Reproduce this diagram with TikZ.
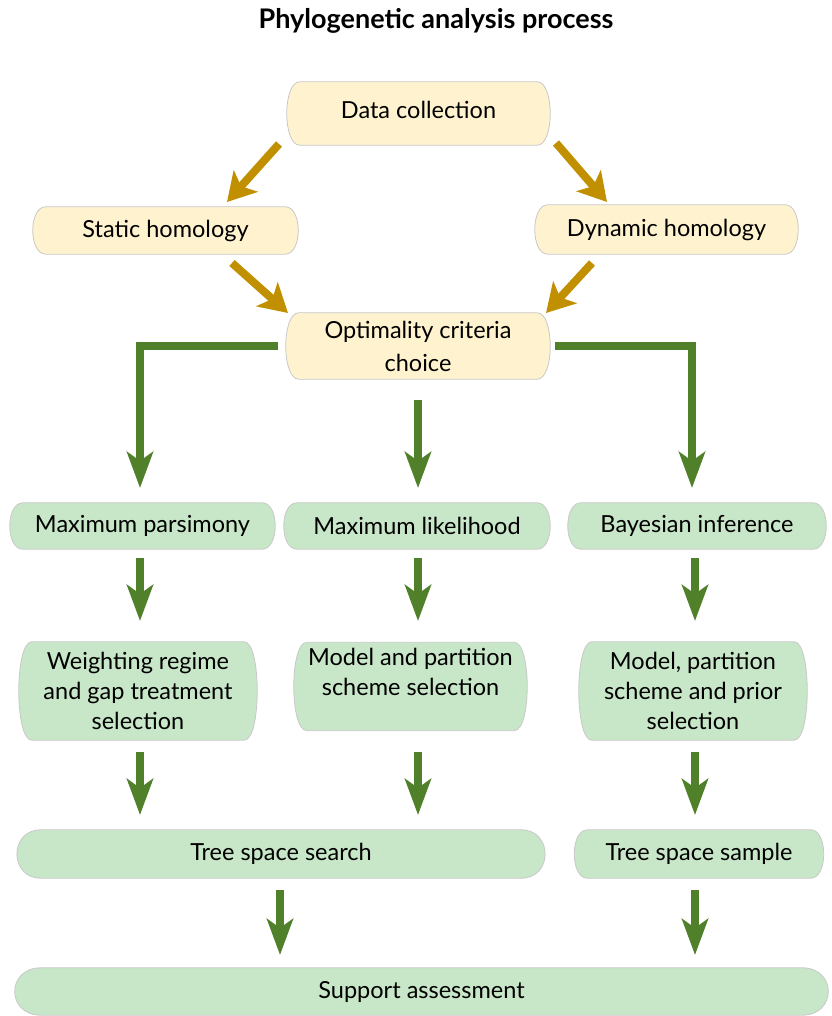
\documentclass[tikz,border=0pt]{standalone}
\usepackage{fontspec}
\setmainfont{Lato}
\usetikzlibrary{arrows.meta,calc}
\definecolor{gold}{RGB}{192,144,0}
\definecolor{leaf}{RGB}{80,128,42}
\definecolor{cream}{RGB}{255,243,207}
\definecolor{mint}{RGB}{200,230,200}
\definecolor{edgegray}{RGB}{200,200,200}
\pgfdeclarelayer{bg}
\pgfsetlayers{bg,main}
\newcommand\pill[3]{%
\begin{pgfonlayer}{bg}
\path[draw=edgegray,line width=0.8pt,fill=#2]
 ($(#1.north west)+(#3,0)$) -- ($(#1.north east)+(-#3,0)$)
 .. controls ($(#1.north east)+(0.45*#3,0)$) and ($(#1.south east)+(0.45*#3,0)$) .. ($(#1.south east)+(-#3,0)$)
 -- ($(#1.south west)+(#3,0)$)
 .. controls ($(#1.south west)+(-0.45*#3,0)$) and ($(#1.north west)+(-0.45*#3,0)$) .. cycle;
\end{pgfonlayer}}
\tikzset{
  bx/.style={inner sep=0pt, align=center, font=\fontsize{23.5}{30}\selectfont},
  goldarr/.style={draw=gold, line width=8pt, -{Stealth[length=28pt,width=32pt,inset=7pt]}},
  greenarr/.style={draw=leaf, line width=8pt, -{Stealth[length=36pt,width=26pt,inset=9pt]}},
  titletext/.style={font=\fontsize{27}{30}\selectfont\bfseries}
}
\begin{document}
\begin{tikzpicture}[x=1pt,y=-1pt]
\useasboundingbox (0,0) rectangle (831,1016);
\node[titletext] (title) at (436,21) {Phylogenetic analysis process};

\node[bx, minimum width=261pt, minimum height=63pt] (dc) at (418.5,113.5) {};
\node[bx] (dctext) at (418.5,110) {Data collection};
\node[bx, minimum width=263pt, minimum height=47pt] (sh) at (165.5,230.5) {Static homology};
\node[bx, minimum width=261pt, minimum height=49pt] (dh) at (666.5,229.5) {Dynamic homology};
\node[bx, minimum width=262pt, minimum height=66pt, font=\fontsize{23.5}{33}\selectfont] (oc) at (418,346) {Optimality criteria\\choice};

\node[bx, minimum width=263pt, minimum height=46pt] (mp) at (142.5,526) {Maximum parsimony};
\node[bx, minimum width=264pt, minimum height=46pt] (ml) at (417,526) {Maximum likelihood};
\node[bx, minimum width=256pt, minimum height=46pt] (bi) at (697,526) {Bayesian inference};

\node[bx, minimum width=236pt, minimum height=98pt] (wr) at (138,691) {Weighting regime\\and gap treatment\\selection};
\node[bx, minimum width=231pt, minimum height=88pt] (mps) at (410.5,686.5) {};
\node[bx, anchor=north] (mpstext) at ($(mps.north)+(0,6)$) {Model and partition\\scheme selection};
\node[bx, minimum width=226pt, minimum height=98pt] (mpp) at (693,691) {Model, partition\\scheme and prior\\selection};

\node[bx, minimum width=524pt, minimum height=48pt] (tss) at (281,854) {Tree space search};
\node[bx, minimum width=247pt, minimum height=48pt] (tsp) at (699,854) {Tree space sample};

\node[bx, minimum width=809pt, minimum height=47pt] (sa) at (421.5,991.5) {Support assessment};

\pill{dc}{cream}{12}
\pill{sh}{cream}{12}
\pill{dh}{cream}{12}
\pill{oc}{cream}{12}
\pill{mp}{mint}{12}
\pill{ml}{mint}{12}
\pill{bi}{mint}{12}
\pill{wr}{mint}{12}
\pill{mps}{mint}{12}
\pill{mpp}{mint}{12}
\pill{tss}{mint}{22}
\pill{tsp}{mint}{12}
\pill{sa}{mint}{24}

% gold arrows
\coordinate (g1s) at (279,144);
\coordinate (g1e) at (227,202);
\coordinate (g2s) at (556,143);
\coordinate (g2e) at (607,202);
\coordinate (g3s) at (232,263);
\coordinate (g3e) at (288,313);
\coordinate (g4s) at (592,263);
\coordinate (g4e) at (546,313);
\draw[goldarr] (g1s) -- (g1e);
\draw[goldarr] (g2s) -- (g2e);
\draw[goldarr] (g3s) -- (g3e);
\draw[goldarr] (g4s) -- (g4e);

% green elbows and arrows
\coordinate (e1s) at (278,346);
\coordinate (e1e) at (140,488);
\coordinate (e2s) at (418,400);
\coordinate (e2e) at (418,488);
\coordinate (e3s) at (555,346);
\coordinate (e3e) at (692,488);
\draw[greenarr] (e1s) -| (e1e);
\draw[greenarr] (e2s) -- (e2e);
\draw[greenarr] (e3s) -| (e3e);

\foreach \x/\n in {140/a,418/b,695/c}{
  \coordinate (r2s\n) at (\x,558);
  \coordinate (r2e\n) at (\x,621);
  \draw[greenarr] (r2s\n) -- (r2e\n);
  \coordinate (r3s\n) at (\x,752);
  \coordinate (r3e\n) at (\x,815);
  \draw[greenarr] (r3s\n) -- (r3e\n);
}
\foreach \x/\n in {280/a,695/b}{
  \coordinate (r4s\n) at (\x,890);
  \coordinate (r4e\n) at (\x,955);
  \draw[greenarr] (r4s\n) -- (r4e\n);
}
\end{tikzpicture}
\end{document}
